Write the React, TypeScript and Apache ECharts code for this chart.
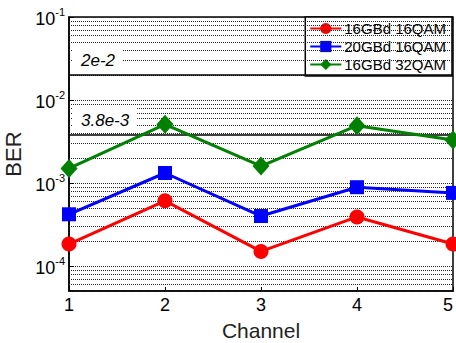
import React, { useEffect, useRef } from 'react';
import * as echarts from 'echarts';

const channels = [1, 2, 3, 4, 5];
const seriesNames = ['16GBd 16QAM', '20GBd 16QAM', '16GBd 32QAM'];
const ber16GBd16QAM = [1.84e-4, 6.1e-4, 1.5e-4, 3.9e-4, 1.84e-4];
const ber20GBd16QAM = [4.2e-4, 1.32e-3, 4.0e-4, 8.9e-4, 7.6e-4];
const ber16GBd32QAM = [1.5e-3, 5.1e-3, 1.6e-3, 4.9e-3, 3.3e-3];
const thresholdValues = [0.02, 0.0038];
const thresholdLabels = ['2e-2', '3.8e-3'];
const yMin = 5e-5;
const yMax = 0.1;
const decades = [1e-5, 1e-4, 1e-3, 1e-2];
const minorMultipliers = [2, 3, 4, 5, 6, 7, 8, 9];

const FONT = '"Liberation Sans", Arial, sans-serif';

export default function App() {
  const ref = useRef<HTMLDivElement>(null);
  useEffect(() => {
    if (!ref.current) return;
    const chart = echarts.init(ref.current, null, { renderer: 'svg' });
    const minorValues: number[] = [];
    decades.forEach((d) =>
      minorMultipliers.forEach((m) => {
        const v = d * m;
        if (v >= yMin * 0.999 && v <= yMax) minorValues.push(v);
      })
    );
    const toData = (arr: number[]) => channels.map((c, i) => [c, arr[i]]);
    const colors = ['#ff0000', '#0000ff', '#008000'];
    const symbols = ['circle', 'rect', 'diamond'];
    const sizes: any[] = [15, 14, [17, 19]];
    const values = [ber16GBd16QAM, ber20GBd16QAM, ber16GBd32QAM];
    const dataSeries = seriesNames.map((name, i) => ({
      name,
      type: 'line',
      data: toData(values[i]),
      symbol: symbols[i],
      symbolSize: sizes[i],
      clip: false,
      z: 5,
      lineStyle: { color: colors[i], width: 3 },
      itemStyle: { color: colors[i] },
    }));
    chart.setOption({
      animation: false,
      grid: {
        left: 69,
        right: 3,
        top: 17,
        bottom: 52,
        containLabel: false,
        outerBoundsMode: 'none',
        show: true,
        borderColor: '#000',
        borderWidth: 1.5,
        backgroundColor: 'transparent',
      },
      legend: {
        data: seriesNames,
        orient: 'vertical',
        right: 4,
        top: 17,
        backgroundColor: '#fff',
        borderColor: '#000',
        borderWidth: 1.5,
        borderRadius: 0,
        padding: [4, 6, 4, 4],
        itemGap: 3,
        itemWidth: 31,
        itemHeight: 14,
        textStyle: { fontFamily: FONT, fontSize: 15, color: '#000', padding: [0, 0, 0, -2] },
      },
      xAxis: {
        type: 'value',
        min: 1,
        max: 5,
        interval: 1,
        name: 'Channel',
        nameLocation: 'middle',
        nameGap: 29,
        nameTextStyle: { fontFamily: FONT, fontSize: 21, color: '#222' },
        axisLine: { show: true, lineStyle: { color: '#000', width: 1.5 } },
        axisTick: { show: true, inside: true, length: 4, lineStyle: { color: '#000' } },
        axisLabel: { fontFamily: FONT, fontSize: 18, color: '#000', margin: 5, alignMaxLabel: 'right' },
        splitLine: { show: false },
      },
      yAxis: {
        type: 'log',
        logBase: 10,
        min: yMin,
        max: yMax,
        name: 'BER',
        nameLocation: 'middle',
        nameGap: 35,
        nameTextStyle: { fontFamily: FONT, fontSize: 22, color: '#222' },
        axisLine: { show: true, lineStyle: { color: '#000', width: 1.5 } },
        axisTick: { show: true, inside: true, length: 5, lineStyle: { color: '#000' } },
        axisLabel: {
          margin: 4,
          formatter: (v: number) => {
            const e = Math.log10(v);
            if (Math.abs(e - Math.round(e)) > 1e-6) return '';
            return `{b|10}{s|${Math.round(e)}}`;
          },
          rich: {
            b: { fontFamily: FONT, fontSize: 18, color: '#000', lineHeight: 22, verticalAlign: 'bottom' },
            s: { fontFamily: FONT, fontSize: 11, color: '#000', lineHeight: 12, verticalAlign: 'top' },
          },
        },
        splitLine: { show: true, lineStyle: { color: '#222', type: [1, 1], width: 1 } },
      },
      series: [
        {
          type: 'line',
          data: [],
          silent: true,
          z: 1,
          markLine: {
            silent: true,
            symbol: 'none',
            precision: 12,
            animation: false,
            label: { show: false },
            lineStyle: { color: '#222', type: [1, 1], width: 1 },
            data: minorValues.map((v) => ({ yAxis: v })),
          },
        },
        {
          type: 'line',
          data: [],
          silent: true,
          z: 3,
          markLine: {
            silent: true,
            symbol: 'none',
            precision: 12,
            animation: false,
            lineStyle: { color: '#000', type: 'solid', width: 1.5 },
            label: {
              show: true,
              position: 'insideStartTop',
              distance: [3, 3],
              fontFamily: FONT,
              fontStyle: 'italic',
              fontSize: 17,
              color: '#000',
              backgroundColor: '#fff',
              padding: [4, 8, 3, 9],
            },
            data: thresholdValues.map((v, i) => ({
              yAxis: v,
              label: { formatter: thresholdLabels[i] },
            })),
          },
        },
        ...dataSeries,
      ],
    });
    return () => chart.dispose();
  }, []);
  return (
    <div
      ref={ref}
      style={{ position: 'fixed', left: 0, top: 0, width: 456, height: 343, background: '#fff' }}
    />
  );
}
